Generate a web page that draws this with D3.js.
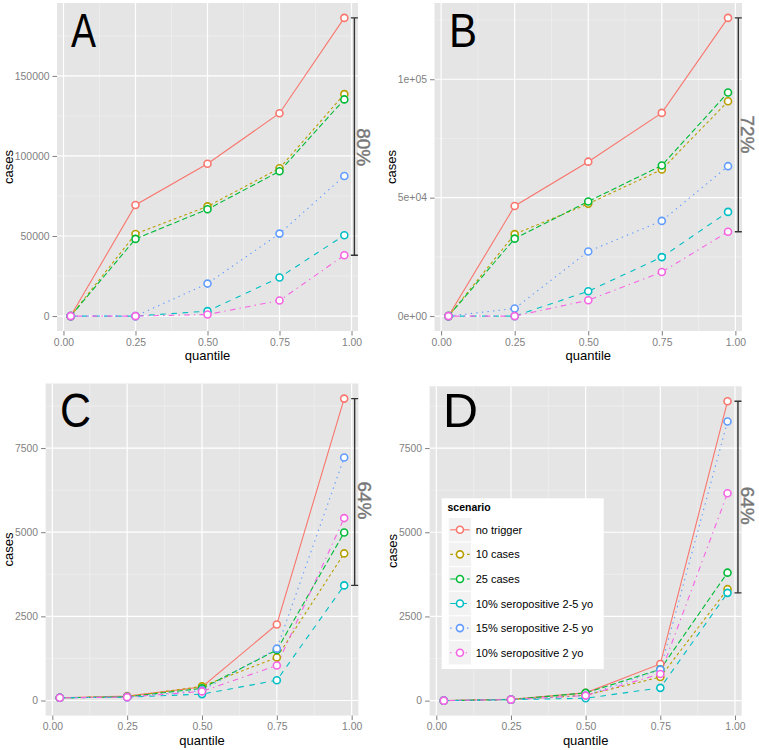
<!DOCTYPE html>
<html>
<head>
<meta charset="utf-8">
<script src="https://cdn.jsdelivr.net/npm/d3@7"></script>
<style>
  body { margin: 0; background: #fff; }
  svg { display: block; font-family: "Liberation Sans", Arial, sans-serif; }
</style>
</head>
<body>
<svg id="chart" width="759" height="750"></svg>
<script>
// quantile of the simulated outbreak-size distribution
const quantiles = [0.025, 0.25, 0.5, 0.75, 0.975];

const scenarios = [
  "no trigger",
  "10 cases",
  "25 cases",
  "10% seropositive 2-5 yo",
  "15% seropositive 2-5 yo",
  "10% seropositive 2 yo"
];

// one row per scenario, one value per quantile
const casesA = [
  [0, 69400, 95100, 126700, 186200],
  [0, 51300, 68500, 92300, 138600],
  [0, 48200, 66700, 90400, 135300],
  [0, 0, 3100, 24100, 50500],
  [0, 0, 20300, 51500, 87500],
  [0, 0, 1000, 9700, 38000]
];
const casesB = [
  [0, 46500, 65200, 85800, 125900],
  [0, 34600, 47400, 61900, 90700],
  [0, 32700, 48400, 63600, 94400],
  [0, 0, 10500, 24900, 44000],
  [0, 3200, 27300, 40200, 63300],
  [0, 0, 6700, 18600, 35600]
];
const casesC = [
  [80, 130, 400, 2260, 8970],
  [80, 110, 420, 1280, 4370],
  [80, 110, 360, 1500, 4990],
  [80, 100, 190, 600, 3420],
  [80, 100, 300, 1540, 7220],
  [80, 100, 270, 1040, 5420]
];
const casesD = [
  [0, 40, 230, 1090, 8890],
  [0, 30, 160, 700, 3310],
  [0, 30, 230, 930, 3800],
  [0, 30, 70, 380, 3200],
  [0, 30, 150, 920, 8290],
  [0, 30, 150, 790, 6160]
];

const reductions = ["80%", "72%", "64%", "64%"];

const xTicks = [0, 0.25, 0.5, 0.75, 1];
const xTickLabels = ["0.00", "0.25", "0.50", "0.75", "1.00"];
const yTicksA = [0, 50000, 100000, 150000];
const yTickLabelsA = ["0", "50000", "100000", "150000"];
const yTicksB = [0, 50000, 100000];
const yTickLabelsB = ["0e+00", "5e+04", "1e+05"];
const yTicksCD = [0, 2500, 5000, 7500];
const yTickLabelsCD = ["0", "2500", "5000", "7500"];

// styling
const colors = ["#F8766D", "#B79F00", "#00BA38", "#00BFC4", "#619CFF", "#F564E3"];
const dashes = [null, "2.8,2.8", "5.6,2.8", "5.6,5.6", "1.4,4.2", "1.4,4.2,5.6,4.2"];

const panels = [
  { letter: "A", data: casesA, yTicks: yTicksA, yLabels: yTickLabelsA, pct: reductions[0],
    box: { x0: 57, x1: 358, y0: 3, y1: 331 }, letterPos: [71, 47], letterW: 25 },
  { letter: "B", data: casesB, yTicks: yTicksB, yLabels: yTickLabelsB, pct: reductions[1],
    box: { x0: 434.5, x1: 742, y0: 3, y1: 331 }, letterPos: [449, 47], letterW: 28 },
  { letter: "C", data: casesC, yTicks: yTicksCD, yLabels: yTickLabelsCD, pct: reductions[2],
    box: { x0: 45.6, x1: 358.4, y0: 383.5, y1: 715.6 }, letterPos: [60, 427], letterW: 31 },
  { letter: "D", data: casesD, yTicks: yTicksCD, yLabels: yTickLabelsCD, pct: reductions[3],
    box: { x0: 429.6, x1: 741.7, y0: 386.3, y1: 715.6 }, letterPos: [443, 427], letterW: 35 }
];

const svg = d3.select("#chart");

// ggplot style 5% expansion
function expand(ext) {
  const pad = (ext[1] - ext[0]) * 0.05;
  return [ext[0] - pad, ext[1] + pad];
}

function minorBreaks(ticks, domain) {
  const step = ticks[1] - ticks[0];
  const out = [];
  for (let v = ticks[0] - step / 2; v <= domain[1]; v += step) {
    if (v >= domain[0]) out.push(v);
  }
  return out;
}

panels.forEach((p, pi) => {
  const b = p.box;
  const all = [0].concat(p.data.flat());
  const x = d3.scaleLinear().domain(expand(d3.extent(quantiles))).range([b.x0, b.x1]);
  const yDom = expand(d3.extent(all));
  const y = d3.scaleLinear().domain(yDom).range([b.y1, b.y0]);

  const g = svg.append("g");

  g.append("rect")
    .attr("x", b.x0).attr("y", b.y0)
    .attr("width", b.x1 - b.x0).attr("height", b.y1 - b.y0)
    .attr("fill", "#e5e5e5");

  // minor grid
  minorBreaks(xTicks, x.domain()).forEach(v => {
    g.append("line").attr("x1", x(v)).attr("x2", x(v)).attr("y1", b.y0).attr("y2", b.y1)
      .attr("stroke", "#f2f2f2").attr("stroke-width", 0.6);
  });
  minorBreaks(p.yTicks, yDom).forEach(v => {
    g.append("line").attr("x1", b.x0).attr("x2", b.x1).attr("y1", y(v)).attr("y2", y(v))
      .attr("stroke", "#f2f2f2").attr("stroke-width", 0.6);
  });
  // major grid
  xTicks.forEach(v => {
    g.append("line").attr("x1", x(v)).attr("x2", x(v)).attr("y1", b.y0).attr("y2", b.y1)
      .attr("stroke", "#fff").attr("stroke-width", 1.2);
  });
  p.yTicks.forEach(v => {
    g.append("line").attr("x1", b.x0).attr("x2", b.x1).attr("y1", y(v)).attr("y2", y(v))
      .attr("stroke", "#fff").attr("stroke-width", 1.2);
  });

  const line = d3.line().x((d, i) => x(quantiles[i])).y(d => y(d));

  p.data.forEach((vals, si) => {
    g.append("path")
      .datum(vals)
      .attr("d", line)
      .attr("fill", "none")
      .attr("stroke", colors[si])
      .attr("stroke-width", 1.1)
      .attr("stroke-dasharray", dashes[si]);
  });
  p.data.forEach((vals, si) => {
    g.selectAll(null)
      .data(vals)
      .enter()
      .append("circle")
      .attr("cx", (d, i) => x(quantiles[i]))
      .attr("cy", d => y(d))
      .attr("r", 3.5)
      .attr("fill", "#fff")
      .attr("stroke", colors[si])
      .attr("stroke-width", 1.6);
  });

  // reduction bracket between the top and bottom 97.5% quantile
  const last = p.data.map(v => v[v.length - 1]);
  const hi = y(d3.max(last)), lo = y(d3.min(last));
  const bx = x(1.01);
  g.append("path")
    .attr("d", `M${bx - 3.5},${hi}H${bx + 3.5}M${bx},${hi}V${lo}M${bx - 3.5},${lo}H${bx + 3.5}`)
    .attr("fill", "none").attr("stroke", "#333").attr("stroke-width", 1.4);
  g.append("text")
    .attr("transform", `translate(${bx + 9.5},${hi + 0.545 * (lo - hi)}) rotate(90)`)
    .attr("text-anchor", "middle")
    .attr("dominant-baseline", "central")
    .attr("font-size", 19)
    .attr("fill", "#777")
    .attr("stroke", "#777")
    .attr("stroke-width", 0.4)
    .text(p.pct);

  // panel letter
  g.append("text")
    .attr("x", p.letterPos[0]).attr("y", p.letterPos[1])
    .attr("font-size", 48)
    .attr("textLength", p.letterW)
    .attr("lengthAdjust", "spacingAndGlyphs")
    .attr("fill", "#000")
    .text(p.letter);

  // axes
  const xAxis = g.append("g").attr("transform", `translate(0,${b.y1})`)
    .call(d3.axisBottom(x).tickValues(xTicks).tickSize(4.5).tickPadding(3)
      .tickFormat((d, i) => xTickLabels[i]));
  const yAxis = g.append("g").attr("transform", `translate(${b.x0},0)`)
    .call(d3.axisLeft(y).tickValues(p.yTicks).tickSize(4.5).tickPadding(3)
      .tickFormat((d, i) => p.yLabels[i]));
  [xAxis, yAxis].forEach(ax => {
    ax.select(".domain").remove();
    ax.selectAll(".tick line").attr("stroke", "#7f7f7f");
    ax.selectAll(".tick text").attr("fill", "#7f7f7f").attr("font-size", 10.4);
    ax.attr("font-family", null);
  });

  let widest = 0;
  yAxis.selectAll(".tick text").each(function () {
    widest = Math.max(widest, this.getComputedTextLength());
  });

  g.append("text")
    .attr("x", (b.x0 + b.x1) / 2)
    .attr("y", b.y1 + 29)
    .attr("text-anchor", "middle")
    .attr("font-size", 13)
    .attr("fill", "#000")
    .text("quantile");

  g.append("text")
    .attr("transform", `translate(${b.x0 - 7.5 - widest - 6},${(b.y0 + b.y1) / 2}) rotate(-90)`)
    .attr("text-anchor", "middle")
    .attr("dominant-baseline", "central")
    .attr("font-size", 13)
    .attr("fill", "#000")
    .text("cases");
});

// legend inside panel D
const leg = svg.append("g").attr("transform", "translate(441.7,498.3)");
leg.append("rect").attr("width", 162).attr("height", 170.7).attr("fill", "#fff");
leg.append("text")
  .attr("x", 5.8).attr("y", 13)
  .attr("font-size", 10.5).attr("font-weight", "bold").attr("fill", "#000")
  .text("scenario");

const keyY = d3.scaleBand().domain(scenarios).range([19.2, 166.7]);

scenarios.forEach((s, i) => {
  const row = leg.append("g").attr("transform", `translate(6.5,${keyY(s)})`);
  const h = keyY.bandwidth();
  row.append("rect").attr("width", 23.5).attr("height", h)
    .attr("fill", "#f2f2f2").attr("stroke", "#fff").attr("stroke-width", 1);
  row.append("line").attr("x1", 2).attr("x2", 21.5).attr("y1", h / 2).attr("y2", h / 2)
    .attr("stroke", colors[i]).attr("stroke-width", 1.1)
    .attr("stroke-dasharray", dashes[i]);
  row.append("circle").attr("cx", 11.75).attr("cy", h / 2).attr("r", 3.5)
    .attr("fill", "#fff").attr("stroke", colors[i]).attr("stroke-width", 1.6);
  row.append("text").attr("x", 27.5).attr("y", h / 2)
    .attr("dominant-baseline", "central")
    .attr("font-size", 11).attr("fill", "#000")
    .text(s);
});
</script>
</body>
</html>
